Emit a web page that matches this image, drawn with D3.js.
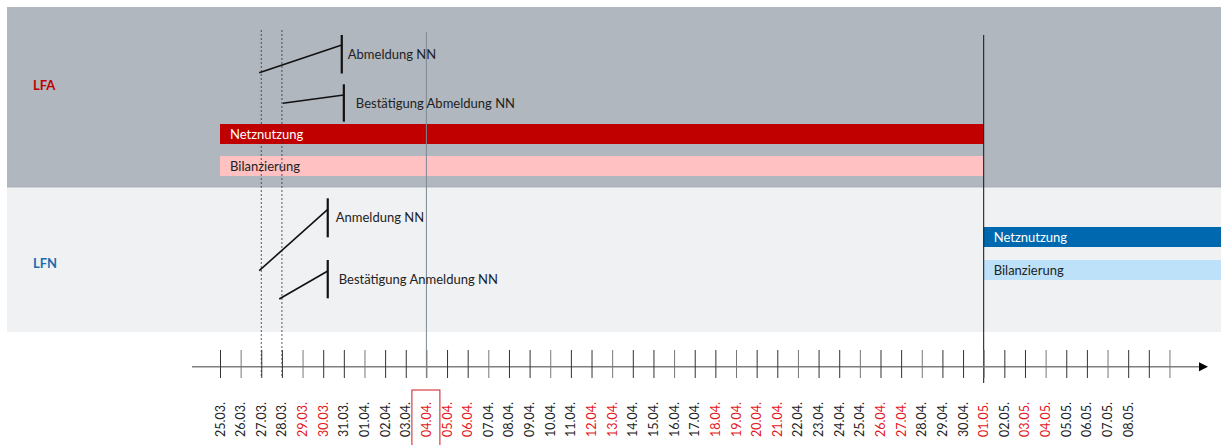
<!DOCTYPE html>
<html><head><meta charset="utf-8">
<script src="https://cdn.jsdelivr.net/npm/d3@7"></script>
<style>
html,body{margin:0;padding:0;background:#fff;}
svg{display:block;font-family:Lato,"Open Sans",sans-serif;}
</style></head><body>
<svg id="c" width="1221" height="445"></svg>
<script>
// ---- data ----
const dayLabels = ["25.03.","26.03.","27.03.","28.03.","29.03.","30.03.","31.03.","01.04.","02.04.","03.04.","04.04.","05.04.","06.04.","07.04.","08.04.","09.04.","10.04.","11.04.","12.04.","13.04.","14.04.","15.04.","16.04.","17.04.","18.04.","19.04.","20.04.","21.04.","22.04.","23.04.","24.04.","25.04.","26.04.","27.04.","28.04.","29.04.","30.04.","01.05.","02.05.","03.05.","04.05.","05.05.","06.05.","07.05.","08.05."];
const tickCount = 47; // two unlabelled ticks after the last date
const redDays = ["29.03.","30.03.","04.04.","05.04.","06.04.","12.04.","13.04.","18.04.","19.04.","20.04.","21.04.","26.04.","27.04.","01.05.","03.05.","04.05."];
const highlightDay = "04.04.";
const parties = ["LFA","LFN"];
// bars: party, label, start day index, end day index, kind
const barParty = ["LFA","LFA","LFN","LFN"];
const barLabel = ["Netznutzung","Bilanzierung","Netznutzung","Bilanzierung"];
const barStart = [0, 0, 37, 37];
const barEnd   = [37, 37, 48.6, 48.6];
const barKind  = ["strong","light","strong","light"];
// messages: label, party, sent (day index), received (day index)
const msgLabel = ["Abmeldung NN","Bestätigung Abmeldung NN","Anmeldung NN","Bestätigung Anmeldung NN"];
const msgParty = ["LFA","LFA","LFN","LFN"];
const msgFrom  = [1.9, 3.04, 1.9, 2.87];
const msgTo    = [5.9, 6.0, 5.22, 5.22];
// reference lines
const dashedDays = [2, 3];
const solidDays = [10, 37];

// ---- layout ----
const W = 1221, H = 445;
const svg = d3.select("#c");
const x = d3.scaleLinear().domain([0, 37]).range([220, 983.7]);
const panel = {LFA:{y0:7,y1:187,fill:"#b1b7be",label:"#c00000",ly:85},
               LFN:{y0:188,y1:332,fill:"#f0f1f3",label:"#1b6db0",ly:263}};
const barY = {LFA:{strong:124,light:156}, LFN:{strong:227,light:260}};
const barH = 20;
const colors = {LFA:{strong:"#c00000",light:"#ffc1c1"}, LFN:{strong:"#0068ae",light:"#bde1f9"}};
const textCol = {strong:"#ffffff",light:"#222222"};
// message geometry: [y start, y end, bar top, bar bottom, label offset]
const msgGeom = [[72.7,45,35,73.5,6],[103.3,95,84.3,121.7,12],[270.7,209.3,198.3,237.3,8],[299,271,260,298.3,11]];
const axisY = 366.7;

// panels
parties.forEach(p=>{
  const P = panel[p];
  svg.append("rect").attr("x",7).attr("y",P.y0).attr("width",W-7).attr("height",P.y1-P.y0).attr("fill",P.fill);
  svg.append("text").attr("x",33).attr("y",P.ly).attr("dy","0.36em").attr("font-weight","bold")
    .attr("font-size",13).attr("fill",P.label).text(p);
});
svg.append("line").attr("x1",7).attr("x2",W).attr("y1",187).attr("y2",187).attr("stroke","#a3a9b0").attr("stroke-width",1.2);

// bars
barLabel.forEach((lab,i)=>{
  const p = barParty[i], k = barKind[i];
  const y0 = barY[p][k];
  svg.append("rect").attr("x",x(barStart[i])).attr("y",y0).attr("width",x(barEnd[i])-x(barStart[i])).attr("height",barH)
    .attr("fill",colors[p][k]);
  svg.append("text").attr("x",x(barStart[i])+10).attr("y",y0+barH/2).attr("dy","0.36em")
    .attr("font-size",13).attr("fill",textCol[k]).text(lab);
});

// dashed lines
dashedDays.forEach(d=>{
  svg.append("line").attr("x1",x(d)).attr("x2",x(d)).attr("y1",30).attr("y2",378)
    .attr("stroke","#333").attr("stroke-width",0.8).attr("stroke-dasharray","2,2");
});
// solid vertical lines
svg.append("line").attr("x1",x(solidDays[0])).attr("x2",x(solidDays[0])).attr("y1",32).attr("y2",378)
  .attr("stroke","#7d8894").attr("stroke-width",1);
svg.append("line").attr("x1",x(solidDays[1])).attr("x2",x(solidDays[1])).attr("y1",35).attr("y2",383)
  .attr("stroke","#111").attr("stroke-width",1);

// messages
msgLabel.forEach((lab,i)=>{
  const g = msgGeom[i];
  svg.append("line").attr("x1",x(msgFrom[i])).attr("y1",g[0]).attr("x2",x(msgTo[i])).attr("y2",g[1])
    .attr("stroke","#111").attr("stroke-width",1.6);
  svg.append("line").attr("x1",x(msgTo[i])).attr("x2",x(msgTo[i])).attr("y1",g[2]).attr("y2",g[3])
    .attr("stroke","#111").attr("stroke-width",2.2);
  svg.append("text").attr("x",x(msgTo[i])+g[4]).attr("y",(g[2]+g[3])/2)
    .attr("dy","0.36em").attr("font-size",13).attr("fill","#222").text(lab);
});

// axis
svg.append("line").attr("x1",192).attr("x2",1200).attr("y1",axisY).attr("y2",axisY).attr("stroke","#7f7f7f").attr("stroke-width",1.6);
svg.append("path").attr("d",`M1199,${axisY-4.5}L1208,${axisY}L1199,${axisY+4.5}Z`).attr("fill","#000");
const axis = d3.axisBottom(x).tickValues(d3.range(tickCount)).tickSizeInner(-16).tickSizeOuter(0).tickFormat("");
const ag = svg.append("g").attr("transform",`translate(0,${axisY})`).call(axis);
ag.select(".domain").remove();
ag.selectAll(".tick line").attr("y1",11.3).attr("y2",-16.7)
  .attr("stroke",(d)=> d%3===1?"#777":"#333").attr("stroke-width",1);
dayLabels.forEach((lab,i)=>{
  svg.append("text").attr("transform",`translate(${x(i)},402) rotate(-90)`).attr("text-anchor","end").attr("dy","0.36em")
    .attr("font-size",12.5).attr("fill",redDays.includes(lab)?"#e3161b":"#222").text(lab);
});
// highlight box
const hi = dayLabels.indexOf(highlightDay);
svg.append("rect").attr("x",x(hi)-14.5).attr("y",390).attr("width",28).attr("height",60)
  .attr("fill","none").attr("stroke","#d0191f").attr("stroke-width",1);
</script></body></html>
